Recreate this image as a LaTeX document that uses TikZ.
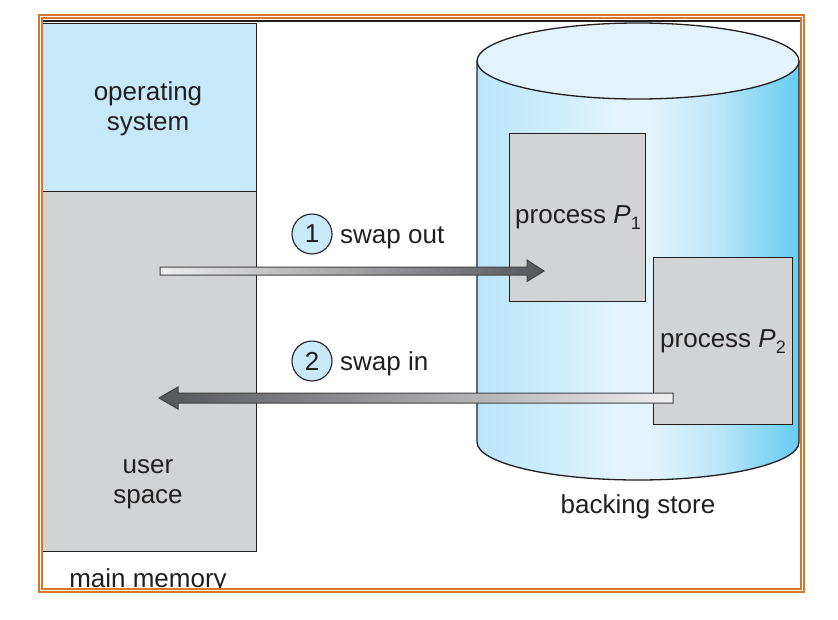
\documentclass[tikz,border=0pt]{standalone}
\usepackage{fontspec}
\setmainfont{Liberation Sans}
\usetikzlibrary{calc}

\definecolor{ink}{HTML}{231F20}
\definecolor{osblue}{HTML}{C8E9F9}
\definecolor{usergray}{HTML}{D1D3D4}
\definecolor{frameorange}{HTML}{D8772B}
\definecolor{cylA}{HTML}{BAE5F9}
\definecolor{cylB}{HTML}{CDEEFB}
\definecolor{cylC}{HTML}{E3F4FD}
\definecolor{cylD}{HTML}{B9E5F8}
\definecolor{cylE}{HTML}{80D4F4}
\definecolor{cylF}{HTML}{68CBF2}
\definecolor{cyltop}{HTML}{E2F3FC}
\definecolor{arrowlight}{HTML}{EEEEEF}
\definecolor{arrowdark}{HTML}{55565A}

% side-to-side tint of the disk body (path box maps to 25bp..75bp)
\pgfdeclarehorizontalshading{cylshade}{100bp}{%
  color(0bp)=(cylA); color(25bp)=(cylA); color(37bp)=(cylB);
  color(47bp)=(cylC); color(52bp)=(cylC); color(63bp)=(cylD);
  color(71bp)=(cylE); color(75bp)=(cylF); color(100bp)=(cylF)}

\tikzset{
  txt/.style={text=ink, font=\fontsize{26}{30}\selectfont, inner sep=0pt},
  block/.style={draw=ink, line width=1.3pt, inner sep=0pt},
  stepnum/.style={circle, draw=ink, fill=osblue, line width=1.1pt,
    minimum size=40pt, inner sep=0pt, text=ink,
    font=\fontsize{26}{30}\selectfont},
  blockarrow/.style={draw=ink!85, line width=1pt, line join=miter},
}

\newcommand{\procname}[1]{process \textit{P}\raisebox{-6pt}{\fontsize{18}{18}\selectfont #1}}

\begin{document}
\begin{tikzpicture}[x=1pt, y=-1pt]
\useasboundingbox (0,0) rectangle (838,619);
\fill[white] (0,0) rectangle (838,619);

\begin{scope}
\clip (41,18) rectangle (800,588.5);

% top edge line
\draw[ink, line width=2pt] (41,21) -- (800,21);

% main memory column
\node[block, fill=osblue, minimum width=215pt, minimum height=168pt,
      anchor=north west] (os) at (41,23) {};
\node[block, fill=usergray, minimum width=215pt, minimum height=360pt,
      anchor=north west] (user) at (41,191) {};
\node[txt, anchor=base] (osA) at (148,100) {operating};
\node[txt, anchor=base] (osB) at (148,130) {system};
\node[txt, anchor=base] (usA) at (148,473) {user};
\node[txt, anchor=base] (usB) at (148,503) {space};
\node[txt, anchor=base] (mm) at (148,587) {main memory};

% backing store disk
\shade[shading=cylshade]
  (477,61) -- (477,442) arc[start angle=180, end angle=0, x radius=161, y radius=38]
  -- (799,61) -- cycle;
\draw[ink, line width=1.3pt]
  (477,61) -- (477,442) arc[start angle=180, end angle=0, x radius=161, y radius=38]
  -- (799,61);
\filldraw[fill=cyltop, draw=ink, line width=1.3pt] (638,61) ellipse[x radius=161, y radius=38];
\node[txt] (bs) at (638,507) {backing store};

% processes held on the disk
\node[block, fill=usergray, minimum width=136pt, minimum height=168pt,
      anchor=north west] (p1) at (509,133) {};
\node[block, fill=usergray, minimum width=139pt, minimum height=167pt,
      anchor=north west] (p2) at (653,257) {};
\node[txt, anchor=base west] (p1t) at (515,223) {\procname{1}};
\node[txt, anchor=base west] (p2t) at (660,347) {\procname{2}};

% swap out: user space -> process P1
\coordinate (outS) at (160,271);
\coordinate (outT) at (544,271);
\path[blockarrow, left color=arrowlight, right color=arrowdark]
  ($(outS)+(0,-4)$) -- ($(outT)+(-17,-4)$) -- ($(outT)+(-17,-11)$) -- (outT)
  -- ($(outT)+(-17,10.5)$) -- ($(outT)+(-17,4)$) -- ($(outS)+(0,4)$) -- cycle;

% swap in: process P2 -> user space
\coordinate (inS) at (673,398);
\coordinate (inT) at (159,398);
\path[blockarrow, left color=arrowdark, right color=arrowlight]
  ($(inS)+(0,-5)$) -- ($(inT)+(19,-5)$) -- ($(inT)+(19,-11)$) -- (inT)
  -- ($(inT)+(19,11)$) -- ($(inT)+(19,5)$) -- ($(inS)+(0,5)$) -- cycle;

% step markers
\node[stepnum] (n1) at (312,234) {1};
\node[txt, anchor=base west] (so) at (340,243) {swap out};
\node[stepnum] (n2) at (312,361) {2};
\node[txt, anchor=base west] (si) at (340,370) {swap in};
\end{scope}

% orange double frame
\draw[frameorange, line width=2pt] (38.8,15.3) rectangle (803.8,592.3);
\draw[frameorange, line width=1.8pt] (41.8,18.2) rectangle (800.9,589.2);
\end{tikzpicture}
\end{document}
